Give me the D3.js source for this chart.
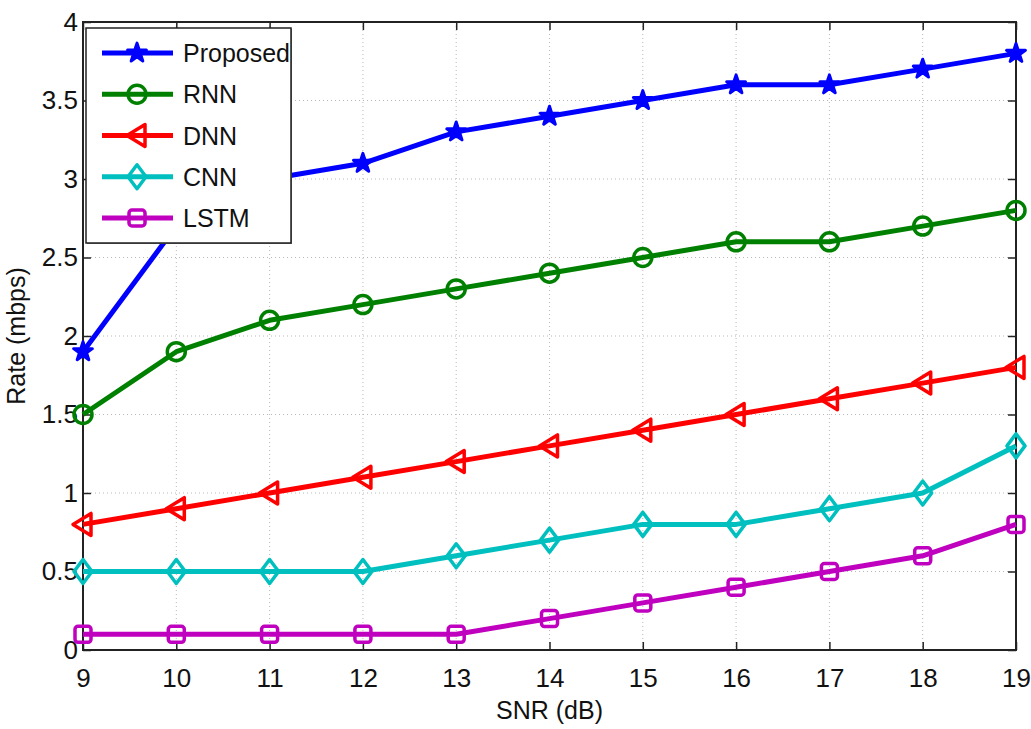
<!DOCTYPE html>
<html><head><meta charset="utf-8">
<script src="https://cdn.jsdelivr.net/npm/d3@7"></script>
<style>
body{margin:0;background:#fff;}
text{font-family:"Liberation Sans",Arial,sans-serif;fill:#111;}
</style></head>
<body><svg id="c" width="1031" height="729"></svg>
<script>
const snr = [9,10,11,12,13,14,15,16,17,18,19];
const proposed = [1.9,2.7,3.0,3.1,3.3,3.4,3.5,3.6,3.6,3.7,3.8];
const rnn = [1.5,1.9,2.1,2.2,2.3,2.4,2.5,2.6,2.6,2.7,2.8];
const dnn = [0.8,0.9,1.0,1.1,1.2,1.3,1.4,1.5,1.6,1.7,1.8];
const cnn = [0.5,0.5,0.5,0.5,0.6,0.7,0.8,0.8,0.9,1.0,1.3];
const lstm = [0.1,0.1,0.1,0.1,0.1,0.2,0.3,0.4,0.5,0.6,0.8];
const seriesNames = ["Proposed","RNN","DNN","CNN","LSTM"];
const xTicks = [9,10,11,12,13,14,15,16,17,18,19];
const yTicks = [0,0.5,1,1.5,2,2.5,3,3.5,4];
const yTickLabels = ["0","0.5","1","1.5","2","2.5","3","3.5","4"];

const series = [
  {name:seriesNames[0], values:proposed, color:"#0000ff", marker:"star"},
  {name:seriesNames[1], values:rnn, color:"#008000", marker:"circle"},
  {name:seriesNames[2], values:dnn, color:"#ff0000", marker:"tri"},
  {name:seriesNames[3], values:cnn, color:"#00bfbf", marker:"diamond"},
  {name:seriesNames[4], values:lstm, color:"#bf00bf", marker:"square"}
];

const L=83, R=1016, T=22, B=650;
const x = d3.scaleLinear().domain([9,19]).range([L,R]);
const y = d3.scaleLinear().domain([0,4]).range([B,T]);
const svg = d3.select("#c");

// grid
const g = svg.append("g");
g.selectAll(".vg").data(xTicks.slice(1,-1)).join("line")
  .attr("x1",d=>x(d)).attr("x2",d=>x(d)).attr("y1",T).attr("y2",B)
  .attr("stroke","#b8b8b8").attr("stroke-width",1).attr("stroke-dasharray","1,3");
g.selectAll(".hg").data(yTicks.slice(1,-1)).join("line")
  .attr("x1",L).attr("x2",R).attr("y1",d=>y(d)).attr("y2",d=>y(d))
  .attr("stroke","#b8b8b8").attr("stroke-width",1).attr("stroke-dasharray","1,3");

// axes (MATLAB style, inward ticks)
const ax = d3.axisBottom(x).tickValues(xTicks).tickSize(-8).tickPadding(19).tickFormat(d3.format("d"));
const axB = svg.append("g").attr("transform",`translate(0,${B})`).call(ax);
const axT = svg.append("g").attr("transform",`translate(0,${T})`).call(d3.axisTop(x).tickValues(xTicks).tickSize(-8).tickFormat(""));
const ayL = svg.append("g").attr("transform",`translate(${L},0)`).call(d3.axisLeft(y).tickValues(yTicks).tickSize(-8).tickPadding(5).tickFormat((d,i)=>yTickLabels[i]));
const ayR = svg.append("g").attr("transform",`translate(${R},0)`).call(d3.axisRight(y).tickValues(yTicks).tickSize(-8).tickFormat(""));
[axB,axT,ayL,ayR].forEach(a=>{
  a.select(".domain").remove();
  a.selectAll(".tick line").attr("stroke","#222").attr("stroke-width",1.5);
  a.selectAll("text").attr("font-size",26).attr("fill","#111").style("font-family","'Liberation Sans',Arial,sans-serif");
});
svg.append("rect").attr("x",L).attr("y",T).attr("width",R-L).attr("height",B-T)
  .attr("fill","none").attr("stroke","#222").attr("stroke-width",2);

// axis labels
svg.append("text").attr("x",(L+R)/2).attr("y",719).attr("text-anchor","middle")
  .attr("font-size",25).text("SNR (dB)");
svg.append("text").attr("transform",`translate(25,${(T+B)/2}) rotate(-90)`).attr("text-anchor","middle")
  .attr("font-size",25).text("Rate (mbps)");

// markers
function drawMarker(sel, type, color){
  if(type==="star"){
    sel.append("path").attr("d",d3.symbol().type(d3.symbolStar).size(110)())
      .attr("fill",color).attr("stroke",color).attr("stroke-width",3).attr("stroke-linejoin","round");
  } else if(type==="circle"){
    sel.append("circle").attr("r",9).attr("fill","none").attr("stroke",color).attr("stroke-width",3.5);
  } else if(type==="tri"){
    sel.append("path").attr("d","M-10,0 L8,-11 L8,11 Z").attr("fill","none").attr("stroke",color).attr("stroke-width",3.5).attr("stroke-linejoin","round");
  } else if(type==="diamond"){
    sel.append("path").attr("d","M0,-12 L9,0 L0,12 L-9,0 Z").attr("fill","none").attr("stroke",color).attr("stroke-width",3.5).attr("stroke-linejoin","round");
  } else if(type==="square"){
    sel.append("rect").attr("x",-8).attr("y",-8).attr("width",16).attr("height",16).attr("rx",3)
      .attr("fill","none").attr("stroke",color).attr("stroke-width",3.5);
  }
}

const line = d3.line().x((d,i)=>x(snr[i])).y(d=>y(d));
const clip = svg.append("g");
series.forEach(s=>{
  clip.append("path").datum(s.values).attr("d",line).attr("fill","none")
    .attr("stroke",s.color).attr("stroke-width",5).attr("stroke-linejoin","round");
  s.values.forEach((v,i)=>{
    const m = clip.append("g").attr("transform",`translate(${x(snr[i])},${y(v)})`);
    drawMarker(m,s.marker,s.color);
  });
});

// legend
const lg = svg.append("g");
lg.append("rect").attr("x",87).attr("y",29).attr("width",205).attr("height",215).attr("fill","#777");
lg.append("rect").attr("x",86).attr("y",28).attr("width",205).attr("height",215).attr("fill","#fff").attr("stroke","#222").attr("stroke-width",1.5);
const rowY = d3.scaleLinear().domain([0,4]).range([53,218]);
series.forEach((s,i)=>{
  const yy = rowY(i);
  lg.append("line").attr("x1",102).attr("x2",173).attr("y1",yy).attr("y2",yy)
    .attr("stroke",s.color).attr("stroke-width",5);
  const m = lg.append("g").attr("transform",`translate(137,${yy})`);
  drawMarker(m,s.marker,s.color);
  lg.append("text").attr("x",183).attr("y",yy+9).attr("font-size",25).text(s.name);
});
</script></body></html>
